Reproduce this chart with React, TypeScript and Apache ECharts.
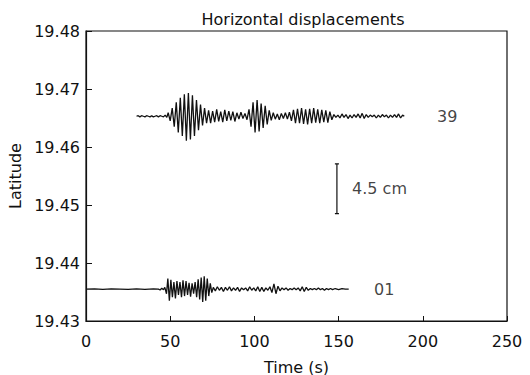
import React, { useEffect, useRef } from "react";
import * as echarts from "echarts";

// Trace 39: [time (s), displacement in 1e-4 deg of latitude]
const trace39Base = 19.4653;
const trace39: [number, number][] = [
  [30, 0], [31, 1], [32, -1], [33, 1], [34, 0], [35, -1], [36, 1], [37, 0], [38, -1], [39, 1],
  [40, -1], [41, 0], [42, 1], [43, -1], [44, 1], [45, 0], [46, -1], [47, 2], [48, -2],
  [48.8, 6], [50.0, -8], [51.2, 14], [52.4, -18], [53.6, 24], [54.8, -28], [56.0, 32], [57.2, -34],
  [58.4, 38], [59.6, -42], [60.8, 40], [62.0, -40], [63.2, 36], [64.4, -34], [65.6, 28], [66.8, -24],
  [68.0, 20], [69.2, -16], [70.4, 14], [71.6, -12], [72.8, 10], [74.0, -12], [75.2, 9], [76.4, -10],
  [77.6, 12], [78.8, -9], [80.0, 8], [81.2, -10], [82.4, 11], [83.6, -8], [84.8, 9], [86.0, -7],
  [87.2, 8], [88.4, -9], [89.6, 6], [90.8, -5], [92.0, 7], [93.2, -4], [94.4, 5], [95.6, -6],
  [96.8, 12], [98.0, -18], [99.2, 24], [100.4, -28], [101.6, 28], [102.8, -26], [104.0, 22],
  [105.2, -20], [106.4, 18], [107.6, -14], [108.8, 10], [110.0, -7],
  [111.2, 6], [112.4, -5], [113.6, 4], [114.8, -6], [116.0, 5], [117.2, -4], [118.4, 6], [119.6, -5],
  [120.8, 7], [122.0, -8],
  [123.2, 11], [124.4, -12], [125.6, 13], [126.8, -12], [128.0, 14], [129.2, -13], [130.4, 12],
  [131.6, -14], [132.8, 13], [134.0, -12], [135.2, 14], [136.4, -11], [137.6, 12], [138.8, -12],
  [140.0, 11], [141.2, -10], [142.4, 10], [143.6, -11], [144.8, 8], [146.0, -6],
  [147.2, 3], [148.4, -2], [149.6, 2], [150.8, -3], [152.0, 4], [153.2, -2], [154.4, 3], [155.6, -4],
  [156.8, 2], [158.0, -3], [159.2, 3], [160.4, -2], [161.6, 4], [162.8, -3], [164.0, 5], [165.2, -4],
  [166.4, 3], [167.6, -2], [168.8, 2], [170.0, -1], [171.2, 2], [172.4, -3], [173.6, 2], [174.8, -2],
  [176.0, 3], [177.2, -1], [178.4, 2], [179.6, -3], [180.8, 2], [182.0, -2], [183.2, 3], [184.4, -2],
  [185.6, 4], [186.8, -3], [188.0, 2], [189.0, 0],
];

// Trace 01: [time (s), displacement in 1e-4 deg of latitude]
const trace01Base = 19.4355;
const trace01: [number, number][] = [
  [0, 0], [5, 0.5], [10, -0.5], [15, 0.5], [20, 0], [25, -0.5], [30, 0.5], [35, -0.5], [40, 0.5],
  [43, 0], [44, -1.5], [45, 1.5], [46, -1], [46.8, 3],
  [47.8, -8], [48.6, 18], [49.5, -20], [50.4, 16], [51.3, -14], [52.2, 12], [53.1, -16], [54.0, 14],
  [54.9, -10], [55.8, 12], [56.7, -14], [57.6, 15], [58.5, -12], [59.4, 14], [60.3, -10], [61.2, 11],
  [62.1, -13], [63.0, 10], [63.9, -8], [64.8, 12], [65.7, -14], [66.6, 17], [67.5, -18], [68.4, 20],
  [69.3, -22], [70.2, 22], [71.1, -20], [72.0, 18], [72.9, -12], [73.8, 10], [74.7, -6], [75.6, 3],
  [76.8, -3], [78.0, 4], [79.2, -2], [80.4, 3], [81.6, -4], [82.8, 3], [84.0, -2], [85.2, 4],
  [86.4, -3], [87.6, 2], [88.8, -2], [90.0, 3], [91.2, -4], [92.4, 2], [93.6, -1], [94.8, 2],
  [96.0, -3], [97.2, 4], [98.4, -2], [99.6, 2], [100.8, -3], [102.0, 4], [103.2, -4], [104.4, 3],
  [105.6, -4], [106.8, 2], [108.0, -2], [109.2, 4], [110.4, -6], [111.6, 9], [112.8, -8], [114.0, 5],
  [115.2, -3], [116.4, 2], [117.6, -1], [118.8, 2], [120.0, -2], [121.2, 1], [122.4, -1], [123.6, 2],
  [124.8, -1], [126.0, 2], [127.2, -3], [128.4, 4], [129.6, -4], [130.8, 3], [132.0, -2], [133.2, 1],
  [134.4, -1], [135.6, 1], [136.8, -1], [138.0, 2], [139.2, -1], [140.4, 1], [141.6, -2], [142.8, 1],
  [144.0, -1], [145.2, 1], [146.4, -1], [148.0, 1], [150.0, -1], [152.0, 1], [154.0, 0], [156.0, 0],
];

// Scale bar (4.5 cm)
const scaleBarTime = 149;
const scaleBarTop = 19.4571;
const scaleBarBottom = 19.4485;
const scaleBarCap = 1.2;

// Trace labels: [time, latitude, text]
const traceLabels: [number, number, string][] = [
  [208.5, 19.4653, "39"],
  [171, 19.4355, "01"],
  [158, 19.4528, "4.5 cm"],
];

const xTicks = { min: 0, max: 250, interval: 50 };
const yTicks = { min: 19.43, max: 19.48, interval: 0.01 };

const FONT = "DejaVu Sans";
const INK = "#111";
const FS = 16;

export default function App() {
  const ref = useRef<HTMLDivElement>(null);
  useEffect(() => {
    if (!ref.current) return;
    const chart = echarts.init(ref.current, null, { renderer: "svg" });
    const toLat = (base: number, pts: [number, number][]) =>
      pts.map(([t, d]) => [t, base + d / 10000]);
    chart.setOption({
      animation: false,
      backgroundColor: "#fff",
      title: {
        text: "Horizontal displacements",
        left: 298,
        textAlign: "center",
        top: 6,
        textStyle: { fontFamily: FONT, fontSize: FS, fontWeight: "normal", color: INK },
      },
      grid: {
        left: 86,
        right: 23,
        top: 31,
        bottom: 54,
        show: true,
        borderColor: INK,
        borderWidth: 1.2,
        backgroundColor: "transparent",
        containLabel: false,
        outerBoundsMode: "none",
      },
      xAxis: {
        type: "value",
        min: xTicks.min,
        max: xTicks.max,
        interval: xTicks.interval,
        name: "Time (s)",
        nameLocation: "middle",
        nameGap: 38,
        nameTextStyle: { fontFamily: FONT, fontSize: FS, color: INK },
        axisLine: { show: true, lineStyle: { color: INK, width: 1.2 } },
        axisTick: { show: true, inside: true, length: 5, lineStyle: { color: INK } },
        axisLabel: { fontFamily: FONT, fontSize: FS, color: INK, margin: 12 },
        splitLine: { show: false },
      },
      yAxis: {
        type: "value",
        min: yTicks.min,
        max: yTicks.max,
        interval: yTicks.interval,
        name: "Latitude",
        nameLocation: "middle",
        nameGap: 61,
        nameTextStyle: { fontFamily: FONT, fontSize: FS, color: INK },
        axisLine: { show: true, lineStyle: { color: INK, width: 1.2 } },
        axisTick: { show: true, inside: true, length: 6, lineStyle: { color: INK } },
        axisLabel: {
          fontFamily: FONT,
          fontSize: FS,
          color: INK,
          margin: 6,
          formatter: (v: number) => v.toFixed(2),
        },
        splitLine: { show: false },
      },
      series: [
        {
          type: "line",
          data: toLat(trace39Base, trace39),
          showSymbol: false,
          lineStyle: { color: INK, width: 1.3 },
        },
        {
          type: "line",
          data: toLat(trace01Base, trace01),
          showSymbol: false,
          lineStyle: { color: INK, width: 1.3 },
        },
        {
          type: "line",
          data: [
            [scaleBarTime - scaleBarCap, scaleBarTop],
            [scaleBarTime + scaleBarCap, scaleBarTop],
            [scaleBarTime, scaleBarTop],
            [scaleBarTime, scaleBarBottom],
            [scaleBarTime - scaleBarCap, scaleBarBottom],
            [scaleBarTime + scaleBarCap, scaleBarBottom],
          ],
          showSymbol: false,
          lineStyle: { color: INK, width: 1.2 },
        },
        {
          type: "scatter",
          symbolSize: 0,
          data: traceLabels.map(([t, lat, txt]) => ({ value: [t, lat], name: txt })),
          label: {
            show: true,
            position: "right",
            distance: 0,
            formatter: (p: any) => p.name,
            fontFamily: FONT,
            fontSize: FS,
            color: INK,
          },
        },
      ],
    });
    return () => chart.dispose();
  }, []);
  return <div ref={ref} style={{ width: 530, height: 375, position: "absolute", left: 0, top: 0 }} />;
}
